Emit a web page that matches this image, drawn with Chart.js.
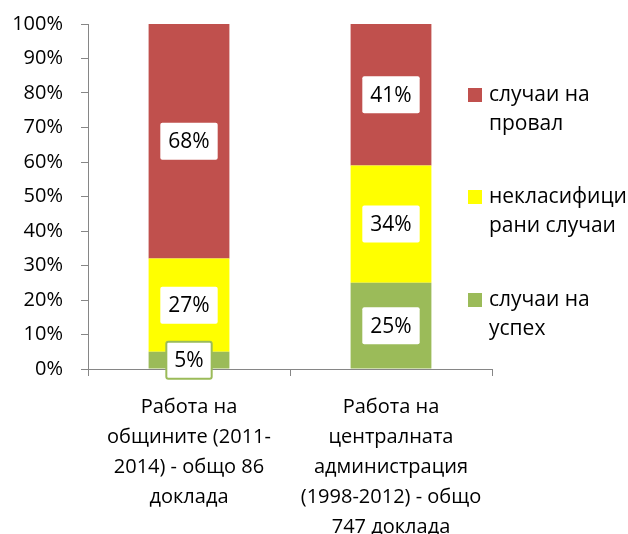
<!DOCTYPE html>
<html>
<head>
<meta charset="utf-8">
<script src="https://cdn.jsdelivr.net/npm/chart.js@4"></script>
<style>
  html, body { margin: 0; padding: 0; background: #fff; }
  #wrap { width: 628px; height: 534px; }
</style>
</head>
<body>
<div id="wrap"><canvas id="chart" width="628" height="534"></canvas></div>
<script>
const categories = [
  ['Работа на', 'общините (2011-', '2014) - общо 86', 'доклада'],
  ['Работа на', 'централната', 'администрация', '(1998-2012) - общо', '747 доклада']
];
const seriesNames = [
  ['случаи на', 'успех'],
  ['некласифици', 'рани случаи'],
  ['случаи на', 'провал']
];
const success = [5, 25];
const unclassified = [27, 34];
const failure = [68, 41];
const yTicks = [0, 10, 20, 30, 40, 50, 60, 70, 80, 90, 100];

const COLORS = ['#9BBB59', '#FFFF00', '#C0504D'];
const FONT = 'Open Sans';
const AXIS = '#868686';

const labelPlugin = {
  id: 'segLabels',
  afterDatasetsDraw(chart) {
    const ctx = chart.ctx;
    ctx.save();
    ctx.font = '21px "' + FONT + '"';
    ctx.textAlign = 'center';
    ctx.textBaseline = 'middle';
    chart.data.datasets.forEach((ds, di) => {
      chart.getDatasetMeta(di).data.forEach((el, i) => {
        const txt = Math.round(ds.data[i]) + '%';
        const cx = el.x;
        const cy = (el.y + el.base) / 2;
        const w = ctx.measureText(txt).width + 16;
        const h = 37;
        const small = Math.abs(el.base - el.y) < h;
        ctx.fillStyle = '#fff';
        ctx.beginPath();
        ctx.roundRect(cx - w / 2, cy - h / 2, w, h, 2);
        ctx.fill();
        if (small) {
          ctx.strokeStyle = ds.backgroundColor;
          ctx.lineWidth = 2;
          ctx.stroke();
        }
        ctx.fillStyle = '#000';
        ctx.fillText(txt, cx, cy + 1);
      });
    });
    ctx.restore();
  }
};

const legendPlugin = {
  id: 'sideLegend',
  afterDraw(chart) {
    const ctx = chart.ctx;
    ctx.save();
    ctx.font = '21px "' + FONT + '"';
    ctx.textAlign = 'left';
    ctx.textBaseline = 'middle';
    const tops = [95, 197, 300];
    const order = [2, 1, 0];
    order.forEach((di, k) => {
      const y = tops[k];
      ctx.fillStyle = chart.data.datasets[di].backgroundColor;
      ctx.fillRect(468, y - 7, 14, 14);
      ctx.fillStyle = '#000';
      seriesNames[di].forEach((line, j) => {
        ctx.fillText(line, 489, y + j * 29);
      });
    });
    ctx.restore();
  }
};

new Chart(document.getElementById('chart'), {
  type: 'bar',
  data: {
    labels: categories,
    datasets: [
      { label: seriesNames[0].join(' '), data: success, backgroundColor: COLORS[0] },
      { label: seriesNames[1].join(' '), data: unclassified, backgroundColor: COLORS[1] },
      { label: seriesNames[2].join(' '), data: failure, backgroundColor: COLORS[2] }
    ]
  },
  options: {
    responsive: false,
    animation: false,
    layout: { padding: { top: 24, right: 136, left: 0, bottom: 0 } },
    datasets: { bar: { categoryPercentage: 1, barPercentage: 0.4 } },
    plugins: { legend: { display: false }, tooltip: { enabled: false } },
    scales: {
      x: {
        stacked: true,
        grid: { offset: true, drawOnChartArea: false, drawTicks: true, tickLength: 7, color: AXIS },
        border: { color: AXIS, width: 1 },
        ticks: { color: '#000', font: { family: FONT, size: 20, lineHeight: 1.5 }, padding: 16, maxRotation: 0, autoSkip: false },
        afterFit(scale) { scale.height = 165; scale.paddingLeft = 0; scale.paddingRight = 0; }
      },
      y: {
        stacked: true,
        min: 0,
        max: 100,
        afterBuildTicks(scale) { scale.ticks = yTicks.map(v => ({ value: v })); },
        grid: { drawOnChartArea: false, drawTicks: true, tickLength: 7, color: AXIS },
        border: { color: AXIS, width: 1 },
        ticks: { color: '#000', font: { family: FONT, size: 20 }, padding: 18, callback: v => v + '%' },
        afterFit(scale) { scale.width = 88; scale.paddingTop = 0; scale.paddingBottom = 0; }
      }
    }
  },
  plugins: [labelPlugin, legendPlugin]
});
</script>
</body>
</html>
